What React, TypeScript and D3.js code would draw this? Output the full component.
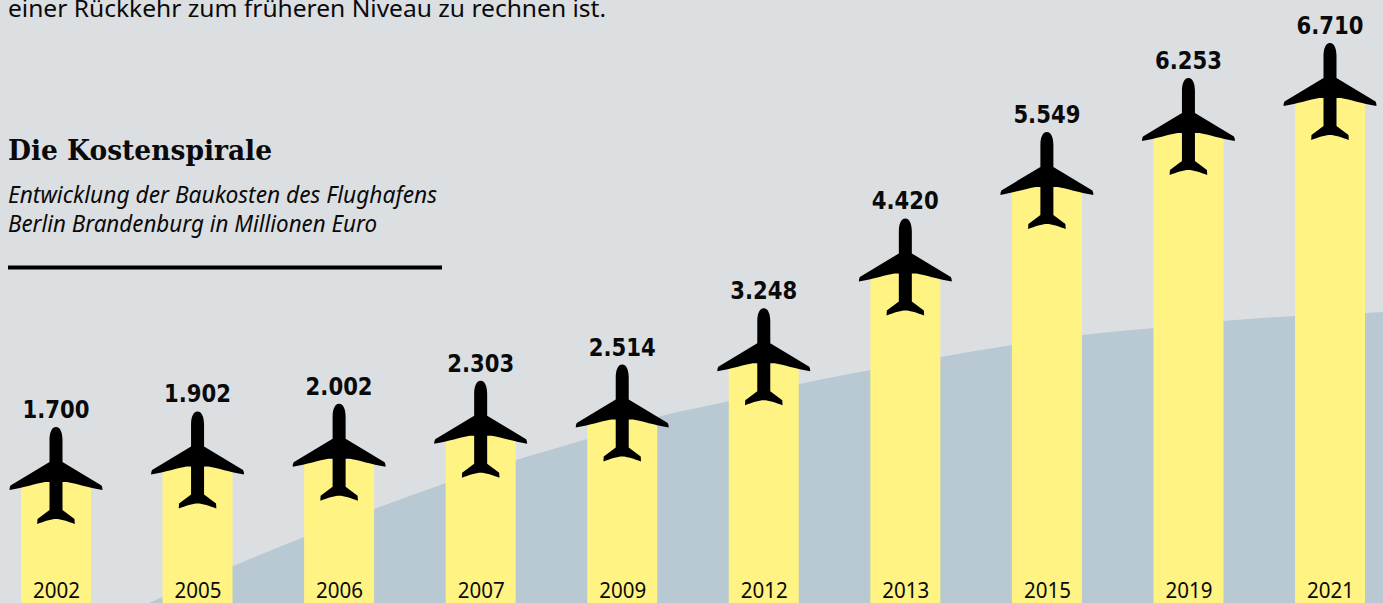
import React, { useEffect, useRef } from 'react';
import * as d3 from 'd3';

const years = ['2002', '2005', '2006', '2007', '2009', '2012', '2013', '2015', '2019', '2021'];
const costs = [1700, 1902, 2002, 2303, 2514, 3248, 4420, 5549, 6253, 6710];

// background swoosh: position in bar steps / height in Mio. Euro
const swooshSteps = [0.657, 1.251, 1.753, 2.247, 2.756, 3.251, 3.753, 4.247, 4.756, 5.251, 5.753, 6.247, 6.756, 7.251, 7.753, 8.247, 8.756, 9.251, 9.378];
const swooshValues = [121, 604, 982, 1348, 1687, 1987, 2261, 2548, 2757, 2979, 3161, 3331, 3487, 3618, 3709, 3800, 3866, 3905, 3918];

const introLine = 'einer Rückkehr zum früheren Niveau zu rechnen ist.';
const title = 'Die Kostenspirale';
const subtitleLines = ['Entwicklung der Baukosten des Flughafens', 'Berlin Brandenburg in Millionen Euro'];

const width = 1383;
const height = 603;
const barWidth = 70;
const sans = '"Noto Sans", sans-serif';

// plane silhouette, origin at the nose tip
const planePath = `M0,0 C-4.5,0 -6.5,6 -6.5,13 L-6.5,35 L-45.5,58.5 Q-46.5,60 -46.5,63 C-32,60.5 -20,56.5 -11,55 L-6.5,55
  L-6.5,83 L-18.5,92 L-18.8,97 C-12,94.5 -5,92 0,92 C5,92 12,94.5 18.8,97 L18.5,92 L6.5,83 L6.5,55 L11,55
  C20,56.5 32,60.5 46.5,63 Q46.5,60 45.5,58.5 L6.5,35 L6.5,13 C6.5,6 4.5,0 0,0 Z`;

const App = () => {
  const svgRef = useRef<SVGSVGElement>(null);

  useEffect(() => {
    const svg = d3.select(svgRef.current);
    svg.selectAll('*').remove();

    const x = d3.scalePoint().domain(years).range([56, 1330]);
    const stepX = d3.scaleLinear().domain([0, years.length - 1]).range([56, 1330]);
    const y = d3.scaleLinear().domain([0, 6710]).range([612.3, 97.9]);

    svg.append('rect').attr('width', width).attr('height', height).attr('fill', '#dcdfe2');

    const swoosh = d3.area<number>()
      .x(i => stepX(swooshSteps[i]))
      .y0(height)
      .y1(i => y(swooshValues[i]))
      .curve(d3.curveMonotoneX);

    svg.append('path')
      .attr('d', swoosh(d3.range(swooshSteps.length)))
      .attr('fill', '#b8c9d3');

    // bars run off the bottom of the picture
    svg.selectAll('.bar')
      .data(costs)
      .enter().append('rect')
      .attr('class', 'bar')
      .attr('x', (d, i) => x(years[i]) - barWidth / 2)
      .attr('y', d => y(d))
      .attr('width', barWidth)
      .attr('height', d => height - y(d))
      .attr('fill', '#fff384');

    svg.selectAll('.plane')
      .data(costs)
      .enter().append('path')
      .attr('class', 'plane')
      .attr('d', planePath)
      .attr('transform', (d, i) => `translate(${x(years[i])},${y(d) - 55})`)
      .attr('fill', '#000');

    svg.selectAll('.value')
      .data(costs)
      .enter().append('text')
      .attr('class', 'value')
      .attr('x', (d, i) => x(years[i]))
      .attr('y', d => y(d) - 64)
      .attr('text-anchor', 'middle')
      .attr('font-family', '"DejaVu Sans", sans-serif')
      .attr('font-weight', 700)
      .attr('font-size', 24.5)
      .attr('textLength', 67)
      .attr('lengthAdjust', 'spacingAndGlyphs')
      .attr('fill', '#0a0a0a')
      .text(d => d3.format(',')(d).replace(',', '.'));

    const axis = svg.append('g')
      .attr('transform', `translate(0,${height})`)
      .call(d3.axisBottom(x).tickSize(0));
    axis.select('.domain').remove();
    axis.selectAll('text')
      .attr('y', 0)
      .attr('dy', -5)
      .attr('font-family', sans)
      .attr('font-size', 21)
      .attr('textLength', 47)
      .attr('lengthAdjust', 'spacingAndGlyphs')
      .attr('fill', '#0a0a0a');

    svg.append('text')
      .attr('x', 8).attr('y', 17)
      .attr('font-family', sans)
      .attr('font-size', 24)
      .attr('textLength', 598)
      .attr('lengthAdjust', 'spacingAndGlyphs')
      .attr('fill', '#0a0a0a')
      .text(introLine);

    svg.append('text')
      .attr('x', 8).attr('y', 160)
      .attr('font-family', '"DejaVu Serif", serif')
      .attr('font-weight', 700)
      .attr('font-size', 27)
      .attr('textLength', 264)
      .attr('lengthAdjust', 'spacingAndGlyphs')
      .attr('fill', '#0a0a0a')
      .text(title);

    svg.selectAll('.subtitle')
      .data(subtitleLines)
      .enter().append('text')
      .attr('class', 'subtitle')
      .attr('x', 8)
      .attr('y', (d, i) => 203 + i * 29)
      .attr('font-family', sans)
      .attr('font-style', 'italic')
      .attr('font-size', 23)
      .attr('textLength', (d, i) => (i === 0 ? 429 : 369))
      .attr('lengthAdjust', 'spacingAndGlyphs')
      .attr('fill', '#0a0a0a')
      .text(d => d);

    svg.append('line')
      .attr('x1', 8).attr('x2', 442)
      .attr('y1', 267.5).attr('y2', 267.5)
      .attr('stroke', '#000')
      .attr('stroke-width', 4);
  }, []);

  return (
    <svg ref={svgRef} width={width} height={height} style={{ position: 'absolute', left: 0, top: 0, display: 'block' }}></svg>
  );
};

export default App;
